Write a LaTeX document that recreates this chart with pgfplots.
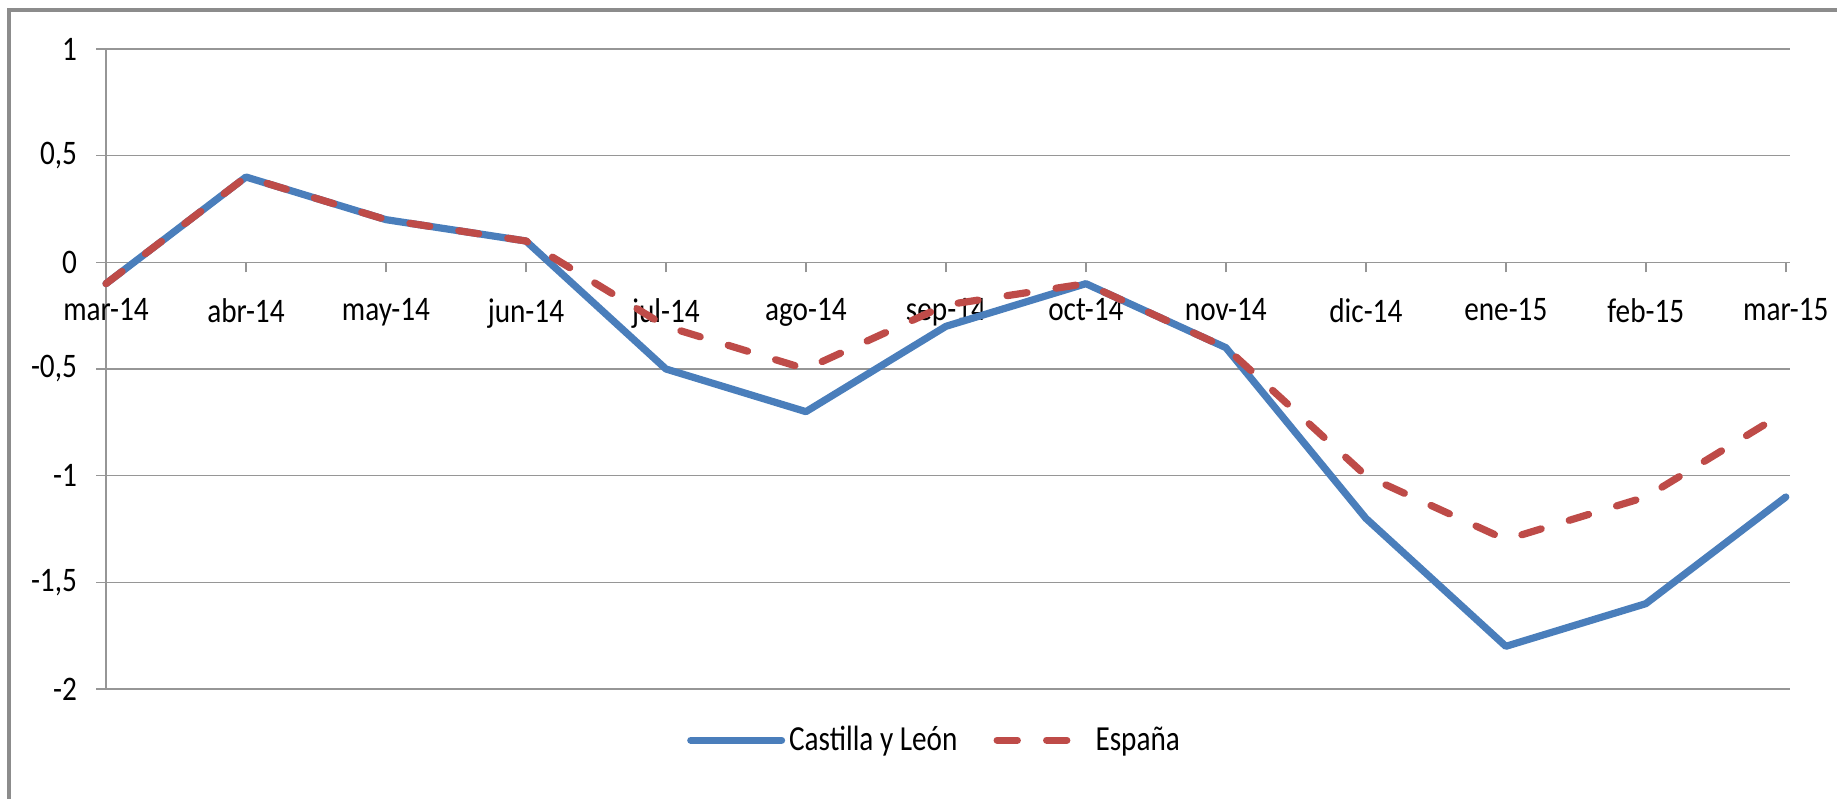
\documentclass[border=0pt]{standalone}
\usepackage{pgfplots}
\pgfplotsset{compat=1.18}
\usepackage{fontspec}
\setmainfont{Carlito}
\newfontfamily\tickfont[FakeStretch=0.85]{Carlito}
\newfontfamily\legfont[FakeStretch=0.83]{Carlito}
\definecolor{cyl}{HTML}{4A7EBB}
\definecolor{esp}{HTML}{BE4B48}
\definecolor{gridc}{HTML}{969696}
\definecolor{framec}{HTML}{8C8C8C}
\begin{document}
\begin{tikzpicture}
\useasboundingbox (0,0) rectangle (918.5pt,399pt);
\draw[framec, line width=1.6pt] (4.5pt,-2pt) -- (4.5pt,394pt) -- (921pt,394pt);
\begin{axis}[
  at={(53pt,54.5pt)}, anchor=south west,
  scale only axis, width=842pt, height=320pt,
  xmin=0, xmax=12.03, ymin=-2, ymax=1,
  axis x line=middle, axis y line=left,
  axis line style={gridc, line width=0.8pt, -},
  hide obscured x ticks=false, hide obscured y ticks=false,
  xtick={0,...,12},
  xticklabels={mar-14,abr-14,may-14,jun-14,jul-14,ago-14,sep-14,oct-14,nov-14,dic-14,ene-15,feb-15,mar-15},
  ytick={-2,-1.5,...,1},
  ymajorgrids,
  grid style={gridc, line width=0.8pt},
  tick align=outside,
  major tick length=5pt,
  tick style={gridc, line width=0.8pt},
  xticklabel style={yshift=-9.5pt, font=\tickfont\fontsize{17.2}{19}\selectfont},
  yticklabel style={xshift=-6pt, font=\tickfont\fontsize{17.2}{19}\selectfont},
  /pgf/number format/use comma,
  /pgf/number format/assume math mode=true,
  clip=false,
  legend columns=2,
  legend style={at={(0.4926,-0.08)}, anchor=center, draw=none, fill=none,
    font=\legfont\fontsize{17.6}{19}\selectfont,
    /tikz/every even column/.append style={column sep=16pt}},
  legend image code/.code={\draw[#1] (0pt,0pt) -- (45.4pt,0pt);},
]
\addplot[cyl, line width=3.6pt, line cap=round, line join=round] coordinates {
(0,-0.1) (1,0.4) (2,0.2) (3,0.1) (4,-0.5) (5,-0.7) (6,-0.3) (7,-0.1) (8,-0.4) (9,-1.2) (10,-1.8) (11,-1.6) (12,-1.1)};
\addlegendentry{Castilla y León}
\addplot[esp, line width=3.6pt, line cap=round, line join=round, dash pattern=on 10.1pt off 14.65pt] coordinates {
(0,-0.1) (1,0.4) (2,0.2) (3,0.1) (4,-0.3) (5,-0.5) (6,-0.2) (7,-0.1) (8,-0.4) (9,-1.0) (10,-1.3) (11,-1.1) (12,-0.7)};
\addlegendentry{España}
\end{axis}
\end{tikzpicture}
\end{document}
